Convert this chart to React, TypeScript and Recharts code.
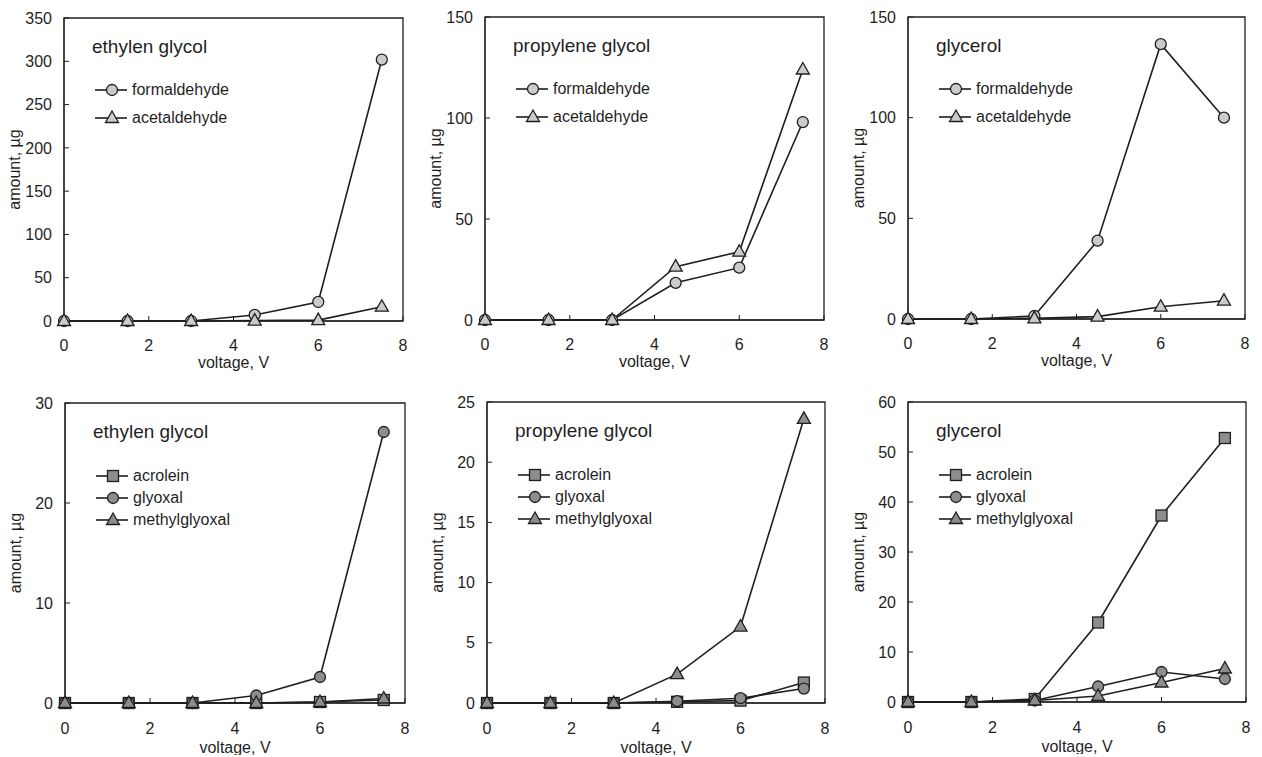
import { LineChart, Line, XAxis, YAxis, ReferenceArea, Legend } from 'recharts';

const voltage = [0, 1.5, 3, 4.5, 6, 7.5];
const voltageTicks = [0, 2, 4, 6, 8];

// top row - aldehydes, µg
const egFormaldehyde = [0, 0, 0, 7, 22, 302];
const egAcetaldehyde = [0, 0, 0, 0.5, 1, 16.5];
const pgFormaldehyde = [0, 0, 0, 18.4, 25.9, 98];
const pgAcetaldehyde = [0, 0, 0, 26.4, 33.8, 124];
const glFormaldehyde = [0, 0, 1.5, 38.9, 136.5, 100];
const glAcetaldehyde = [0, 0, 0.3, 1.2, 6.1, 9.1];

// bottom row - acrolein / glyoxal / methylglyoxal, µg
const egAcrolein = [0, 0, 0, 0, 0.1, 0.3];
const egGlyoxal = [0, 0, 0, 0.75, 2.6, 27.1];
const egMethylglyoxal = [0, 0, 0, 0, 0.1, 0.45];
const pgAcrolein = [0, 0, 0, 0.1, 0.2, 1.7];
const pgGlyoxal = [0, 0, 0, 0.15, 0.4, 1.2];
const pgMethylglyoxal = [0, 0, 0, 2.4, 6.35, 23.6];
const glAcrolein = [0, 0, 0.6, 15.9, 37.3, 52.8];
const glGlyoxal = [0, 0, 0.3, 3.1, 6.0, 4.6];
const glMethylglyoxal = [0, 0, 0.3, 1.2, 3.9, 6.7];

const egTopTicks = [0, 50, 100, 150, 200, 250, 300, 350];
const topTicks150 = [0, 50, 100, 150];
const egBottomTicks = [0, 10, 20, 30];
const pgBottomTicks = [0, 5, 10, 15, 20, 25];
const glBottomTicks = [0, 10, 20, 30, 40, 50, 60];

const FONT = '"Liberation Sans", Arial, sans-serif';
const INK = '#1f1f1f';
const LIGHT = '#cbcbcb';
const DARK = '#8d8d8d';

type Shape = 'circle' | 'triangle' | 'square';
type Series = { name: string; values: number[]; shape: Shape; fill: string };
type Panel = {
  title: string;
  ticks: number[];
  box: [number, number, number, number];
  series: Series[];
  bottom: boolean;
};

const topPair = (f: number[], a: number[]): Series[] => [
  { name: 'formaldehyde', values: f, shape: 'circle', fill: LIGHT },
  { name: 'acetaldehyde', values: a, shape: 'triangle', fill: LIGHT },
];
const bottomTriple = (ac: number[], gl: number[], mg: number[]): Series[] => [
  { name: 'acrolein', values: ac, shape: 'square', fill: DARK },
  { name: 'glyoxal', values: gl, shape: 'circle', fill: DARK },
  { name: 'methylglyoxal', values: mg, shape: 'triangle', fill: DARK },
];

const panels: Panel[] = [
  { title: 'ethylen glycol', ticks: egTopTicks, box: [64, 18, 403, 321], series: topPair(egFormaldehyde, egAcetaldehyde), bottom: false },
  { title: 'propylene glycol', ticks: topTicks150, box: [485, 17, 824, 320], series: topPair(pgFormaldehyde, pgAcetaldehyde), bottom: false },
  { title: 'glycerol', ticks: topTicks150, box: [908, 17, 1245, 319], series: topPair(glFormaldehyde, glAcetaldehyde), bottom: false },
  { title: 'ethylen glycol', ticks: egBottomTicks, box: [65, 403, 405, 703], series: bottomTriple(egAcrolein, egGlyoxal, egMethylglyoxal), bottom: true },
  { title: 'propylene glycol', ticks: pgBottomTicks, box: [487, 402, 825, 703], series: bottomTriple(pgAcrolein, pgGlyoxal, pgMethylglyoxal), bottom: true },
  { title: 'glycerol', ticks: glBottomTicks, box: [908, 402, 1246, 702], series: bottomTriple(glAcrolein, glGlyoxal, glMethylglyoxal), bottom: true },
];

function Marker({ cx, cy, shape, fill }: { cx: number; cy: number; shape: Shape; fill: string }) {
  if (cx == null || cy == null) return null;
  if (shape === 'circle') return <circle cx={cx} cy={cy} r={5.5} fill={fill} stroke={INK} strokeWidth={1.3} />;
  if (shape === 'square') return <rect x={cx - 5.5} y={cy - 5.5} width={11} height={11} fill={fill} stroke={INK} strokeWidth={1.3} />;
  return (
    <polygon
      points={`${cx},${cy - 7} ${cx - 6.5},${cy + 4.5} ${cx + 6.5},${cy + 4.5}`}
      fill={fill}
      stroke={INK}
      strokeWidth={1.3}
    />
  );
}

const AXIS_W = 62;
const M_TOP = 12;
const M_RIGHT = 12;
const AXIS_H = 52;

function PanelChart({ p }: { p: Panel }) {
  const [x0, y0, x1, y1] = p.box;
  const width = x1 - x0 + AXIS_W + M_RIGHT;
  const height = y1 - y0 + M_TOP + AXIS_H;
  const yMax = p.ticks[p.ticks.length - 1];
  const data = voltage.map((v, i) => {
    const row: Record<string, number> = { v };
    p.series.forEach((s) => (row[s.name] = s.values[i]));
    return row;
  });
  const rowCenters = p.bottom ? [73, 95, 117] : [72, 100];

  const legendContent = () => (
    <div style={{ position: 'relative', width: 260, height: 140, fontFamily: FONT, color: INK }}>
      <div style={{ position: 'absolute', left: 0, top: 0, fontSize: 19, lineHeight: '22px', whiteSpace: 'nowrap' }}>
        {p.title}
      </div>
      {p.series.map((s, i) => (
        <div key={s.name} style={{ position: 'absolute', left: 3, top: rowCenters[i] - 28, height: 20, display: 'flex', alignItems: 'center' }}>
          <svg width={34} height={20} style={{ display: 'block' }}>
            <line x1={0} x2={32} y1={10} y2={10} stroke={INK} strokeWidth={1.6} />
            <Marker cx={17} cy={10} shape={s.shape} fill={s.fill} />
          </svg>
          <span style={{ fontSize: 16, marginLeft: 3, whiteSpace: 'nowrap' }}>{s.name}</span>
        </div>
      ))}
    </div>
  );

  return (
    <div style={{ position: 'absolute', left: x0 - AXIS_W, top: y0 - M_TOP }}>
      <LineChart width={width} height={height} data={data} margin={{ top: M_TOP, right: M_RIGHT, bottom: 0, left: 0 }}>
        <XAxis
          dataKey="v"
          type="number"
          domain={[0, 8]}
          ticks={voltageTicks}
          height={AXIS_H}
          tickSize={-5}
          tickMargin={p.bottom ? 25 : 24}
          stroke={INK}
          tick={{ fill: INK, fontSize: 16, fontFamily: FONT }}
          label={{ value: 'voltage, V', position: 'insideBottom', offset: p.bottom ? 2 : 5, fill: INK, fontSize: 16, fontFamily: FONT }}
        />
        <YAxis
          type="number"
          domain={[0, yMax]}
          ticks={p.ticks}
          width={AXIS_W}
          tickSize={-5}
          tickMargin={17}
          stroke={INK}
          tick={{ fill: INK, fontSize: 16, fontFamily: FONT }}
          label={{ value: 'amount, µg', angle: -90, position: 'insideLeft', offset: 12, fill: INK, fontSize: 16, fontFamily: FONT, style: { textAnchor: 'middle' } }}
        />
        <ReferenceArea x1={0} x2={8} y1={0} y2={yMax} fill="none" stroke={INK} strokeWidth={1.3} />
        {p.series.map((s) => (
          <Line
            key={s.name}
            dataKey={s.name}
            name={s.name}
            type="linear"
            stroke={INK}
            strokeWidth={1.6}
            isAnimationActive={false}
            dot={(d: any) => <Marker key={`${s.name}-${d.index}`} cx={d.cx} cy={d.cy} shape={s.shape} fill={s.fill} />}
          />
        ))}
        <Legend
          layout="vertical"
          align="center"
          verticalAlign="middle"
          content={legendContent}
          wrapperStyle={{ left: AXIS_W + 28, top: M_TOP + 29 - 11, width: 260, height: 140 }}
        />
      </LineChart>
    </div>
  );
}

export default function App() {
  return (
    <div style={{ position: 'absolute', left: 0, top: 0, width: 1262, height: 757, background: '#fff' }}>
      {panels.map((p, i) => (
        <PanelChart key={i} p={p} />
      ))}
    </div>
  );
}
